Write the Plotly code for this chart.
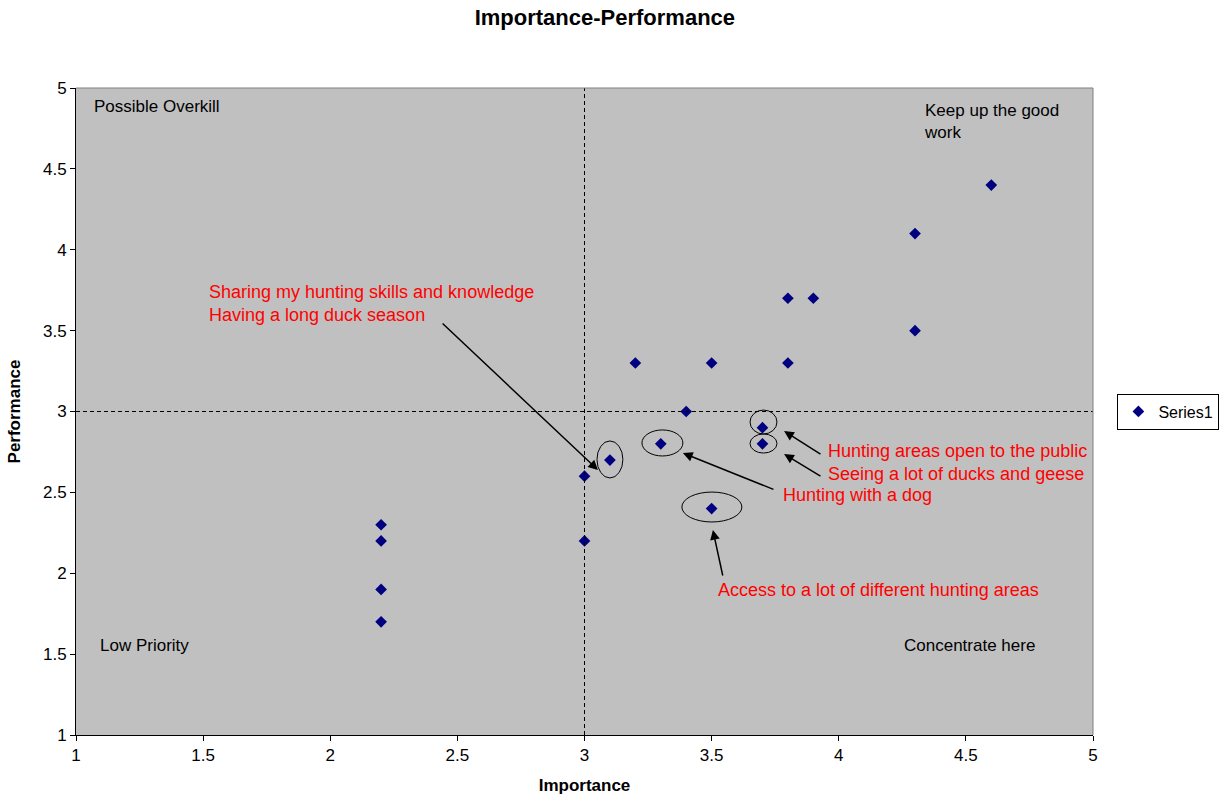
import plotly.graph_objects as go

# Data
importance = [2.2, 2.2, 2.2, 2.2, 3.0, 3.0, 3.1, 3.2, 3.3, 3.4, 3.5, 3.5, 3.7, 3.7, 3.8, 3.8, 3.9, 4.3, 4.3, 4.6]
performance = [2.3, 2.2, 1.9, 1.7, 2.6, 2.2, 2.7, 3.3, 2.8, 3.0, 3.3, 2.4, 2.9, 2.8, 3.7, 3.3, 3.7, 4.1, 3.5, 4.4]

x_ticks = [1, 1.5, 2, 2.5, 3, 3.5, 4, 4.5, 5]
y_ticks = [1, 1.5, 2, 2.5, 3, 3.5, 4, 4.5, 5]
tick_labels = ["1", "1.5", "2", "2.5", "3", "3.5", "4", "4.5", "5"]

# Quadrant labels: (text, x, y)
quadrant_labels = [
    ("Possible Overkill", 1.063, 4.883),
    ("Keep up the good<br>work", 4.327, 4.93),
    ("Low Priority", 1.087, 1.556),
    ("Concentrate here", 4.249, 1.556),
]

# Callouts: (text, text_x, text_y, tail_x, tail_y, head_x, head_y)
callouts = [
    ("Sharing my hunting skills and knowledge<br>Having a long duck season", 1.515, 3.67, 2.436, 3.553, 3.053, 2.638),
    ("Hunting areas open to the public", 3.950, 2.756, 3.934, 2.731, 3.785, 2.879),
    ("Seeing a lot of ducks and geese", 3.950, 2.614, 3.934, 2.595, 3.785, 2.737),
    ("Hunting with a dog", 3.773, 2.484, 3.749, 2.515, 3.387, 2.743),
    ("Access to a lot of different hunting areas", 3.517, 1.896, 3.545, 1.977, 3.505, 2.267),
]

# Highlight ellipses: (x0, x1, y0, y1)
ellipses = [
    (3.049, 3.151, 2.589, 2.818),
    (3.226, 3.387, 2.725, 2.886),
    (3.651, 3.757, 2.861, 3.009),
    (3.651, 3.757, 2.743, 2.861),
    (3.383, 3.619, 2.317, 2.502),
]

divider_x = 3
divider_y = 3

FONT = "Liberation Sans, Arial, sans-serif"

fig = go.Figure()
fig.add_trace(go.Scatter(
    x=importance, y=performance, mode="markers", name="Series1",
    marker=dict(symbol="diamond", size=9, color="#000080", line=dict(width=0)),
))

shapes = [
    dict(type="line", xref="x", yref="paper", x0=divider_x, x1=divider_x, y0=0, y1=1,
         line=dict(color="black", width=1, dash="4px,3px")),
    dict(type="line", xref="paper", yref="y", x0=0, x1=1, y0=divider_y, y1=divider_y,
         line=dict(color="black", width=1, dash="4px,3px")),
]
for x0, x1, y0, y1 in ellipses:
    shapes.append(dict(type="circle", xref="x", yref="y", x0=x0, x1=x1, y0=y0, y1=y1,
                       line=dict(color="black", width=1)))

annotations = []
for text, x, y in quadrant_labels:
    annotations.append(dict(x=x, y=y, xref="x", yref="y", text=text, showarrow=False,
                            xanchor="left", yanchor="middle" if "<br>" not in text else "top",
                            align="left", font=dict(family=FONT, size=17, color="black")))
for text, tx, ty, ax_, ay_, hx, hy in callouts:
    annotations.append(dict(x=hx, y=hy, ax=ax_, ay=ay_, xref="x", yref="y", axref="x", ayref="y",
                            text="", showarrow=True, arrowhead=2, arrowsize=1.3, arrowwidth=1.5,
                            arrowcolor="black"))
    annotations.append(dict(x=tx, y=ty, xref="x", yref="y", text=text, showarrow=False,
                            xanchor="left", yanchor="middle", align="left",
                            font=dict(family=FONT, size=18, color="#ff0000")))

fig.update_layout(
    width=1225, height=806,
    margin=dict(l=76, r=132, t=88, b=71, autoexpand=False),
    paper_bgcolor="white", plot_bgcolor="#c0c0c0",
    font=dict(family=FONT, size=17, color="black"),
    title=dict(text="<b>Importance-Performance</b>", x=0.52, xref="paper", xanchor="center",
               y=0.978, yanchor="middle",
               font=dict(family=FONT, size=22, color="black")),
    xaxis=dict(range=[1, 5], tickvals=x_ticks, ticktext=tick_labels, showgrid=False, zeroline=False,
               ticks="outside", ticklen=5, tickcolor="black", showline=True, linecolor="black",
               linewidth=1, mirror=False,
               title=dict(text="<b>Importance</b>", font=dict(family=FONT, size=17), standoff=14)),
    yaxis=dict(range=[1, 5], tickvals=y_ticks, ticktext=tick_labels, showgrid=False, zeroline=False,
               ticks="outside", ticklen=5, tickcolor="black", showline=True, linecolor="black",
               linewidth=1, mirror=False,
               title=dict(text="<b>Performance</b>", font=dict(family=FONT, size=17), standoff=18)),
    shapes=shapes + [
        dict(type="line", xref="paper", yref="paper", x0=0, x1=1, y0=1, y1=1, line=dict(color="#808080", width=1)),
        dict(type="line", xref="paper", yref="paper", x0=1, x1=1, y0=0, y1=1, line=dict(color="#808080", width=1)),
    ],
    annotations=annotations,
    showlegend=True,
    legend=dict(x=1.024, y=0.5, xanchor="left", yanchor="middle", bgcolor="white",
                bordercolor="black", borderwidth=1, font=dict(family=FONT, size=16),
                itemwidth=30, tracegroupgap=0),
)

fig.write_html("out.html")
